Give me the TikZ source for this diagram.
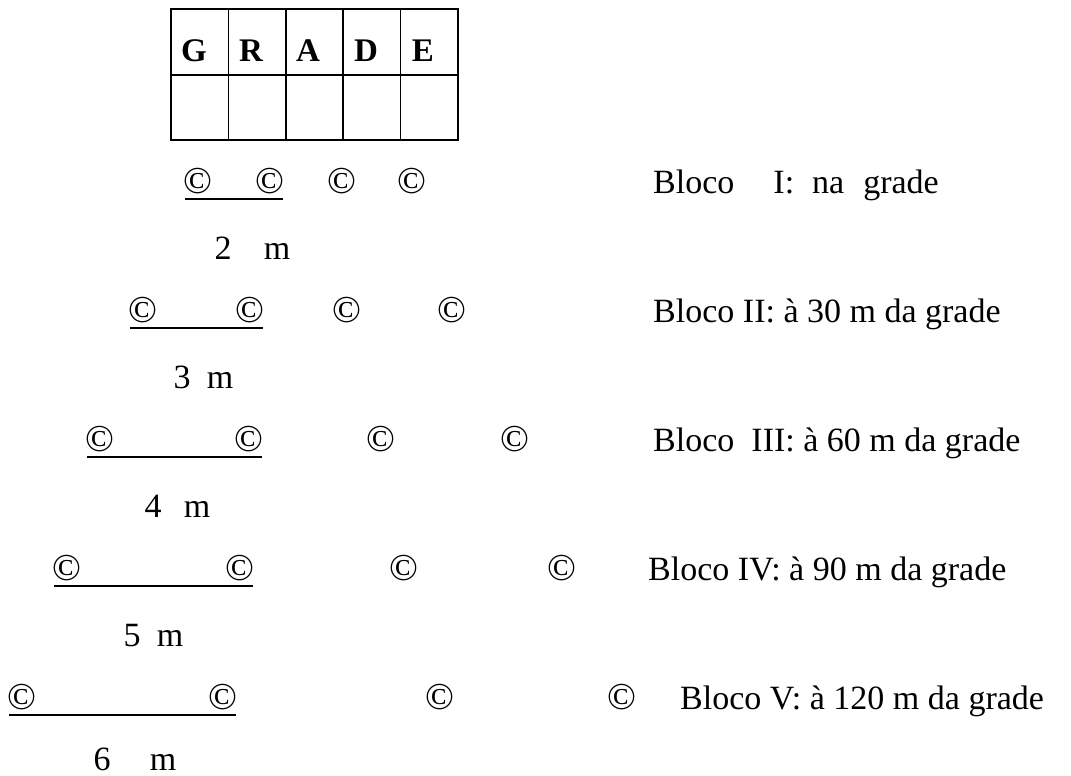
\documentclass[tikz,border=0pt]{standalone}
\usepackage{fontspec}
\setmainfont{Liberation Serif}
\begin{document}
\begin{tikzpicture}[x=1pt,y=-1pt,
  txt/.style={font=\fontsize{34}{40}\selectfont, inner sep=0pt, anchor=base},
  cp/.style={font=\fontsize{38}{44}\selectfont, inner sep=0pt, anchor=base},
  hd/.style={font=\fontsize{33}{38}\selectfont\bfseries, inner sep=0pt, anchor=base},
  bloco/.style={txt, anchor=base west},
  uline/.style={line width=1.8pt},
  gridline/.style={line width=1.5pt}]
\useasboundingbox (0,0) rectangle (1071,776);
% table GRADE
\draw[gridline] (171,9) rectangle (458,140);
\draw[gridline] (171,75) -- (458,75);
\foreach \x in {228.4,285.8,343.2,400.6} \draw[gridline] (\x,9) -- (\x,140);
\node[hd] (hG) at (194,62) {G};
\node[hd] (hR) at (251,62) {R};
\node[hd] (hA) at (308,62) {A};
\node[hd] (hD) at (366,62) {D};
\node[hd] (hE) at (423,62) {E};
% Row 1
\node[cp] (a1) at (198,193) {©};
\node[cp] (b1) at (270,193) {©};
\node[cp] (c1) at (342,193) {©};
\node[cp] (e1) at (412,193) {©};
\draw[uline] ([xshift=2pt,yshift=-6pt]a1.base west) -- ([xshift=-2pt,yshift=-6pt]b1.base east);
\node[txt] (d1) at (223,259) {2};
\node[txt] (m1) at (277,259) {m};
\node[bloco] (t1) at (653,193) {Bloco\hspace{30.5pt} I:\hspace{9.5pt} na\hspace{10.5pt} grade};
% Row 2
\node[cp] (a2) at (143,322) {©};
\node[cp] (b2) at (250,322) {©};
\node[cp] (c2) at (347,322) {©};
\node[cp] (e2) at (452,322) {©};
\draw[uline] ([xshift=2pt,yshift=-6pt]a2.base west) -- ([xshift=-2pt,yshift=-6pt]b2.base east);
\node[txt] (d2) at (182,388) {3};
\node[txt] (m2) at (220,388) {m};
\node[bloco] (t2) at (653,322) {Bloco II: à 30 m da grade};
% Row 3
\node[cp] (a3) at (100,451) {©};
\node[cp] (b3) at (249,451) {©};
\node[cp] (c3) at (381,451) {©};
\node[cp] (e3) at (515,451) {©};
\draw[uline] ([xshift=2pt,yshift=-6pt]a3.base west) -- ([xshift=-2pt,yshift=-6pt]b3.base east);
\node[txt] (d3) at (153,517) {4};
\node[txt] (m3) at (197,517) {m};
\node[bloco] (t3) at (653,451) {Bloco\hspace{8.5pt} III: à 60 m da grade};
% Row 4
\node[cp] (a4) at (67,580) {©};
\node[cp] (b4) at (240,580) {©};
\node[cp] (c4) at (404,580) {©};
\node[cp] (e4) at (562,580) {©};
\draw[uline] ([xshift=2pt,yshift=-6pt]a4.base west) -- ([xshift=-2pt,yshift=-6pt]b4.base east);
\node[txt] (d4) at (132,646) {5};
\node[txt] (m4) at (170,646) {m};
\node[bloco] (t4) at (648,580) {Bloco IV: à 90 m da grade};
% Row 5
\node[cp] (a5) at (22,709) {©};
\node[cp] (b5) at (223,709) {©};
\node[cp] (c5) at (440,709) {©};
\node[cp] (e5) at (622,709) {©};
\draw[uline] ([xshift=2pt,yshift=-6pt]a5.base west) -- ([xshift=-2pt,yshift=-6pt]b5.base east);
\node[txt] (d5) at (102,770) {6};
\node[txt] (m5) at (163,770) {m};
\node[bloco] (t5) at (680,709) {Bloco V: à 120 m da grade};
\end{tikzpicture}
\end{document}
